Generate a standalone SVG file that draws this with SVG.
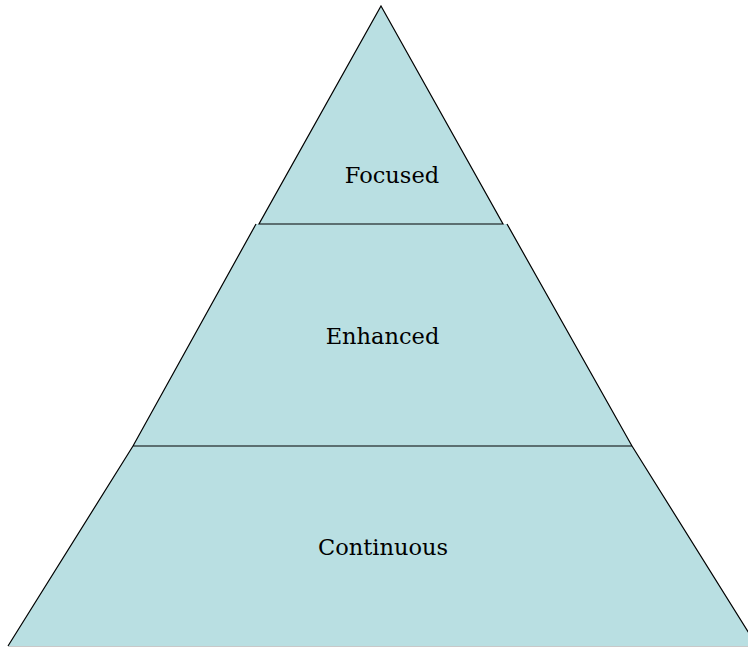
<svg xmlns="http://www.w3.org/2000/svg" width="748" height="647" viewBox="0 0 748 647">
<style>
.fill{fill:#b9dfe2;stroke:none}
.edge{fill:none;stroke:#000;stroke-width:1.2}
.lbl{font-family:"DejaVu Serif","Liberation Serif",serif;font-size:22.5px;fill:#000;text-anchor:middle}
</style>
<rect width="748" height="647" fill="#fff"/>
<g id="continuous">
<path class="fill" d="M133,446 L632,446 L757,646 L8,646 Z"/>
<path class="edge" d="M133,446 L8,646 M632,446 L757,646"/>
<path d="M8,646.5 L748,646.5" stroke="#c8c8c8" stroke-width="1"/>
<text class="lbl" x="383" y="555">Continuous</text>
</g>
<g id="enhanced">
<path class="fill" d="M256,224 L507,224 L632,446 L133,446 Z"/>
<path class="edge" d="M256,224 L133,446 M507,224 L632,446 M133,446 L632,446"/>
<text class="lbl" x="382.5" y="344">Enhanced</text>
</g>
<g id="focused">
<path class="fill" d="M381,6 L503,224 L259,224 Z"/>
<path class="edge" d="M381,6 L503,224 L259,224 Z"/>
<text class="lbl" x="392" y="183">Focused</text>
</g>
</svg>
